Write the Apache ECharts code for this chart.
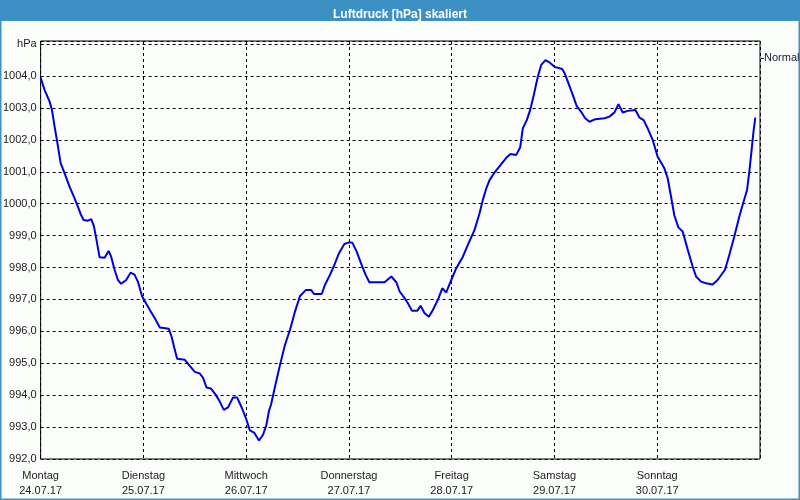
<!DOCTYPE html>
<html>
<head>
<meta charset="utf-8">
<script src="https://cdn.jsdelivr.net/npm/echarts@6/dist/echarts.min.js"></script>
<style>html,body{margin:0;padding:0;background:#fcfefc;}#c{width:800px;height:500px;}</style>
</head>
<body>
<div id="c"></div>
<script>
const chartTitle = 'Luftdruck [hPa] skaliert';
const yUnit = 'hPa';
const legendLabel = 'Normal';
const dayNames = ['Montag','Dienstag','Mittwoch','Donnerstag','Freitag','Samstag','Sonntag'];
const dayDates = ['24.07.17','25.07.17','26.07.17','27.07.17','28.07.17','29.07.17','30.07.17'];
// hours since Monday 24.07.17 00:00
const hours = [0,0.93,2.1,2.64,3.27,3.87,4.67,5.6,6.77,7.93,8.7,9.33,10.03,11.04,11.81,12.44,12.97,13.77,14.93,15.87,16.47,17.27,18.04,18.81,19.97,21.0,21.93,22.7,23.71,
25.5,26.67,27.83,29.93,30.57,31.33,31.87,33.67,34.83,36.0,37.17,37.94,38.73,39.74,40.9,41.84,42.77,43.77,44.94,45.87,46.9,48.07,48.84,49.84,51.0,51.94,52.73,53.34,
53.8,54.74,55.9,57.07,58.24,59.4,60.57,61.97,63.14,63.84,65.64,66.41,67.57,68.6,69.67,70.93,72.0,72.8,73.8,74.81,75.9,76.77,79.63,
80.33,81.9,83.07,83.84,85.0,85.77,86.7,87.97,88.74,89.67,90.67,91.6,92.77,93.8,94.73,95.9,97.07,98.61,99.77,101.34,102.5,103.27,104.07,104.84,105.84,
107.57,108.74,109.74,111.07,112.0,112.61,113.54,114.33,115.17,116.11,116.9,117.91,118.84,120.0,121.8,122.34,123.27,124.27,125.2,126.23,127.17,128.17,129.57,131.67,
132.84,134.0,134.94,135.94,137.1,138.9,139.84,140.84,141.77,142.94,144.1,145.67,146.44,147.23,148.0,148.94,149.94,151.1,152.27,153.07,154.23,155.4,156.94,158.1,159.83,160.84,162.0,163.17,163.94,164.97,165.5,166.04,166.44,166.9];
const pressure = [1003.95,1003.56,1003.2,1002.94,1002.41,1001.94,1001.27,1000.95,1000.53,1000.17,999.91,999.68,999.49,999.47,999.52,999.3,998.92,998.32,998.31,998.52,998.34,997.93,997.61,997.49,997.61,997.84,997.78,997.56,997.09,
996.67,996.41,996.12,996.08,995.84,995.42,995.14,995.11,994.92,994.73,994.68,994.54,994.24,994.21,994.01,993.8,993.54,993.62,993.93,993.93,993.63,993.23,992.9,992.83,992.58,992.76,993.07,993.52,
993.7,994.27,994.95,995.58,996.05,996.62,997.11,997.3,997.3,997.17,997.17,997.46,997.77,998.08,998.45,998.74,998.79,998.78,998.5,998.14,997.77,997.54,997.54,
997.54,997.72,997.54,997.25,997.04,996.88,996.65,996.65,996.8,996.57,996.46,996.67,996.99,997.35,997.22,997.61,997.98,998.34,998.71,999.18,999.7,1000.12,1000.48,1000.74,1000.95,
1001.24,1001.44,1001.56,1001.53,1001.77,1002.36,1002.62,1002.94,1003.41,1003.98,1004.35,1004.5,1004.43,1004.29,1004.22,1004.1,1003.77,1003.41,1003.06,1002.88,1002.68,1002.57,1002.65,1002.68,
1002.73,1002.86,1003.12,1002.86,1002.91,1002.94,1002.7,1002.62,1002.36,1002.0,1001.47,1001.11,1000.8,1000.22,999.63,999.26,999.13,998.57,998.03,997.72,997.56,997.51,997.47,997.61,997.93,998.4,998.97,999.6,999.96,1000.43,1001.0,1001.68,1002.21,1002.7];

const chart = echarts.init(document.getElementById('c'));
const fnt = 'Liberation Sans';
chart.setOption({
  backgroundColor: '#fcfefc',
  animation: false,
  title: {
    text: chartTitle, left: 'center', top: 4,
    textStyle: { color: '#ffffff', fontFamily: fnt, fontWeight: 'bold', fontSize: 12 }
  },
  graphic: [
    { type: 'rect', z: -10, shape: { x: 0, y: 0, width: 800, height: 21 }, style: { fill: '#3d90c4' } },
    { type: 'rect', z: -10, shape: { x: 0.5, y: 0.5, width: 799, height: 499 }, style: { fill: null, stroke: '#3d90c4', lineWidth: 2 } },
    { type: 'line', shape: { x1: 761, y1: 58.5, x2: 764, y2: 58.5 }, style: { stroke: '#202040', lineWidth: 1 } },
    { type: 'text', x: 764, y: 52, style: { text: legendLabel, fill: '#202040', font: '11px "Liberation Sans"' } }
  ],
  grid: { left: 40, right: 40, top: 41, bottom: 41, show: true, borderColor: '#000', borderWidth: 1, backgroundColor: 'transparent' },
  xAxis: {
    type: 'value', min: 0, max: 168, interval: 24,
    axisLine: { show: false }, axisTick: { show: false },
    splitLine: { show: true, lineStyle: { color: '#000', type: [3, 3], width: 1 } },
    axisLabel: {
      margin: 9, color: '#1a1a1a', fontFamily: fnt, fontSize: 11, lineHeight: 15,
      formatter: function (v) { const i = Math.round(v / 24); return i < dayNames.length ? dayNames[i] + '\n' + dayDates[i] : ''; }
    }
  },
  yAxis: {
    type: 'value', min: 992, max: 1005.1, interval: 1,
    axisLine: { show: false }, axisTick: { show: false },
    splitLine: { show: true, lineStyle: { color: '#000', type: [3, 3], width: 1 } },
    axisLabel: {
      margin: 4, color: '#1a1a1a', fontFamily: fnt, fontSize: 11,
      formatter: function (v) {
        if (Math.abs(v - Math.round(v)) > 0.01) return '';
        if (Math.round(v) === 1005) return yUnit;
        return v.toFixed(1).replace('.', ',');
      }
    }
  },
  series: [{
    type: 'line', showSymbol: false, smooth: false,
    lineStyle: { color: '#0000dd', width: 2 },
    data: hours.map((h, i) => [h, pressure[i]])
  }]
});
</script>
</body>
</html>
